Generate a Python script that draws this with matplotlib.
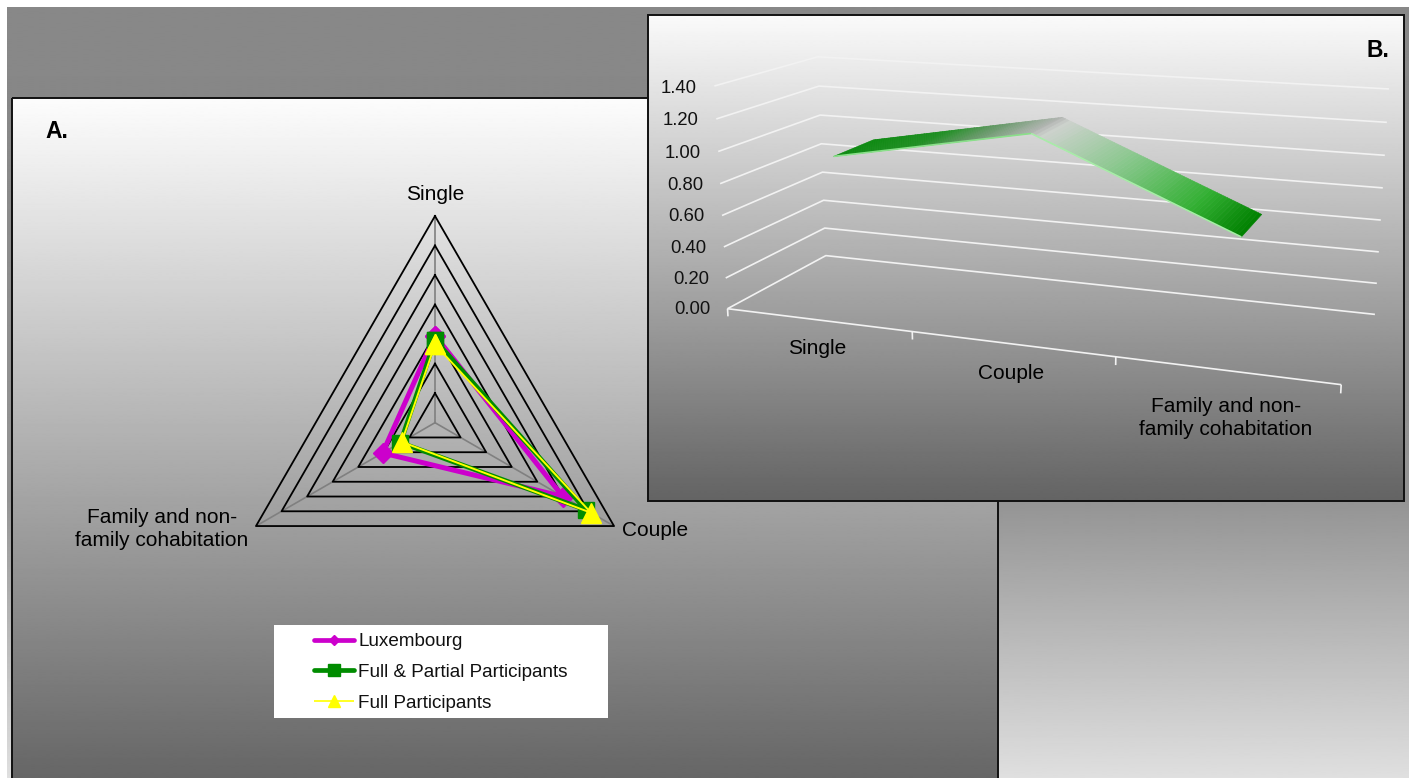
import numpy as np
import matplotlib
matplotlib.use('Agg')
import matplotlib.pyplot as plt
from matplotlib.lines import Line2D
from matplotlib.patches import Rectangle
from matplotlib.colors import LinearSegmentedColormap
from mpl_toolkits.mplot3d.art3d import Poly3DCollection, Line3DCollection

plt.rcParams['font.family'] = ['Liberation Sans', 'DejaVu Sans']

W, H = 1410, 778

# panel A, radar
axes_a = ['Single', 'Couple', 'Family and non-\nfamily cohabitation']
luxembourg = [0.59, 1.00, 0.41]
full_partial = [0.56, 1.18, 0.27]
full_only = [0.53, 1.22, 0.26]
rings = [0.2, 0.4, 0.6, 0.8, 1.0, 1.2, 1.4]
series_names = ['Luxembourg', 'Full & Partial Participants', 'Full Participants']

# panel B, 3d line
cats_b = ['Single', 'Couple', 'Family and non-\nfamily cohabitation']
values_b = [0.96, 1.19, 0.69]
ticks_b = [0.00, 0.20, 0.40, 0.60, 0.80, 1.00, 1.20, 1.40]

fig = plt.figure(figsize=(W / 100, H / 100), dpi=100, facecolor='white')

bg = fig.add_axes([0, 0, 1, 1], zorder=0)
bg.set_xlim(0, W)
bg.set_ylim(H, 0)
bg.axis('off')


def gradient(x0, y0, x1, y1, stops_y, stops_v, z, edge=None):
    g = np.interp(np.linspace(y0, y1, 512), stops_y, stops_v).reshape(-1, 1)
    bg.imshow(g, extent=(x0, x1, y1, y0), cmap='gray', vmin=0, vmax=1,
              aspect='auto', zorder=z, interpolation='bilinear')
    if edge:
        bg.add_patch(Rectangle((x0, y0), x1 - x0, y1 - y0, fill=False, ec=edge, lw=1.4, zorder=z + 0.1))


gradient(7, 7, 1409, H, [7, 98, 501, 778], [0.535, 0.53, 0.58, 0.875], 1)
gradient(12, 98, 998, 790, [98, 790], [0.99, 0.39], 2, '#111111')
gradient(648, 15, 1404, 501, [15, 501], [0.98, 0.39], 3, '#111111')
bg.set_xlim(0, W)
bg.set_ylim(H, 0)

bg.text(45, 131, 'A.', fontsize=16.5, fontweight='bold', va='center', zorder=5)
bg.text(1367, 50, 'B.', fontsize=16.5, fontweight='bold', va='center', zorder=5)
bg.add_patch(Rectangle((274, 625), 334, 93, fc='white', ec='none', zorder=4))

# radar labels
bg.text(435, 194, axes_a[0], fontsize=15, ha='center', va='center', zorder=5)
bg.text(622, 530, axes_a[1], fontsize=15, ha='left', va='center', zorder=5)
bg.text(162, 529, axes_a[2], fontsize=15, ha='center', va='center', zorder=5, linespacing=1.3)

# radar
cx, cy, rad = 435, 422.7, 206.7
ax = fig.add_axes([(cx - rad) / W, 1 - (cy + rad) / H, 2 * rad / W, 2 * rad / H],
                  projection='polar', zorder=2)
ax.set_theta_zero_location('N')
ax.set_theta_direction(-1)
ax.set_ylim(0, rings[-1])
ax.axis('off')
theta = np.deg2rad([0, 120, 240])
closed = np.append(theta, theta[0])
for t in theta:
    ax.plot([t, t], [0, rings[-1]], color='#808080', lw=1.2, clip_on=False, zorder=1)
for r in rings:
    ax.plot(closed, [r] * 4, color='black', lw=1.3, clip_on=False, zorder=2)

ax.plot(closed, luxembourg + luxembourg[:1], color='#cc00cc', lw=3.6, marker='D', ms=10,
        clip_on=False, zorder=3)
ax.plot(closed, full_partial + full_partial[:1], color='#008c00', lw=3.4, marker='s', ms=11,
        clip_on=False, zorder=4)
ax.plot(closed, full_only + full_only[:1], color='#ffff00', lw=1.4, marker='^', ms=14,
        clip_on=False, zorder=5)

# legend keeps smaller markers than the plot
handles = [Line2D([], [], color='#cc00cc', lw=3.4, marker='D', ms=5.5, solid_capstyle='round'),
           Line2D([], [], color='#008c00', lw=3.4, marker='s', ms=8, solid_capstyle='round'),
           Line2D([], [], color='#ffff00', lw=1.2, marker='^', ms=9, solid_capstyle='butt')]
leg = ax.legend(handles, series_names, loc='upper left', bbox_to_anchor=(314 / W, 1 - 633 / H),
                bbox_transform=fig.transFigure, frameon=False, fontsize=13.6, borderpad=0, borderaxespad=0,
                handlelength=2.12, handletextpad=0.21, labelspacing=0.72, labelcolor='#111111')

# panel B: fit a projection from the picture's box corners
world = [(0, 0, 0), (3, 0, 0), (0, 1, 0), (3, 1, 0), (0, 0, 1.4), (0, 1, 1.4), (3, 1, 1.4), (1, 0, 0), (2, 0, 0)]
pixel = [(727.5, 308), (1341, 384), (826, 255.7), (1375, 314), (714.6, 85.7), (817.5, 57), (1389, 89),
         (912, 332), (1116, 358)]
rows, rhs = [], []
for (x, y, z), (u, w) in zip(world, pixel):
    rows.append([x, y, z, 1, 0, 0, 0, 0, -u * x, -u * y, -u * z])
    rows.append([0, 0, 0, 0, x, y, z, 1, -w * x, -w * y, -w * z])
    rhs += [u, w]
sol = np.linalg.lstsq(np.array(rows, float), np.array(rhs, float), rcond=None)[0]
P = np.append(sol, 1.0).reshape(3, 4)

ax3 = fig.add_axes([(W - H) / W, 0, H / W, 1], projection='3d', zorder=3, computed_zorder=False)
ax3.set_axis_off()
ax3.patch.set_visible(False)


def fitted_proj():
    flip = np.array([[1, 0, 0], [0, -1, H], [0, 0, 1]], float)
    m = ax3.transData.inverted().get_matrix() @ flip @ P
    return np.array([m[0], m[1], [0, 1, 0, 0], m[2]])


ax3.get_proj = fitted_proj

grid_lines = [[(0, 0, v), (0, 1, v), (3, 1, v)] for v in ticks_b]
grid_lines.append([(0, 0, 0), (3, 0, 0)])
for t in [0, 1, 2, 3]:
    grid_lines.append([(t, 0, 0), (t, 0, -0.05)])
ax3.add_collection3d(Line3DCollection(grid_lines, colors='#f2f2f2', linewidths=1.2, zorder=1), autolim=False)

# ribbon, split up only so the fill can carry its gradient
ribbon_cmap = LinearSegmentedColormap.from_list('ribbon', [(0, '#0c8a10'), (0.2, '#1e8f22'), (0.35, '#6a9a6c'),
                                                            (0.5, '#b4b6b4'), (0.52, '#cdd2cd'), (0.7, '#86c78a'),
                                                            (0.88, '#33b033'), (1, '#008000')])
xs_b = np.array([0.5, 1.515, 2.5])
depth = (0.22, 0.64)
n = 120
tt = np.linspace(0, 2, n + 1)
xx = np.interp(tt, [0, 1, 2], xs_b)
zz = np.interp(tt, [0, 1, 2], values_b)
quads, cols = [], []
for i in range(n):
    quads.append([(xx[i], depth[0], zz[i]), (xx[i + 1], depth[0], zz[i + 1]),
                  (xx[i + 1], depth[1], zz[i + 1]), (xx[i], depth[1], zz[i])])
    cols.append(ribbon_cmap((i + 0.5) / n))
poly = Poly3DCollection(quads, facecolors=cols, edgecolors=cols, linewidths=0.4, zorder=2)
ax3.add_collection3d(poly, autolim=False)
edge = [[(xs_b[i], depth[0], values_b[i]), (xs_b[i + 1], depth[0], values_b[i + 1])] for i in range(2)]
ax3.add_collection3d(Line3DCollection(edge, colors=['#8ae08a', '#a8eca8'], linewidths=1.2, zorder=3), autolim=False)

for v in ticks_b:
    ax3.text(-0.097, 0, v - 0.02, '%.2f' % v, fontsize=13.3, ha='right', va='center', color='#111111', zorder=5)

top = fig.add_axes([0, 0, 1, 1], zorder=6)
top.set_xlim(0, W)
top.set_ylim(H, 0)
top.axis('off')
top.text(817, 348, cats_b[0], fontsize=15, ha='center', va='center')
top.text(1011, 373, cats_b[1], fontsize=15, ha='center', va='center')
top.text(1226, 418, cats_b[2], fontsize=15, ha='center', va='center', linespacing=1.3)

fig.savefig('out.png', dpi=100)
